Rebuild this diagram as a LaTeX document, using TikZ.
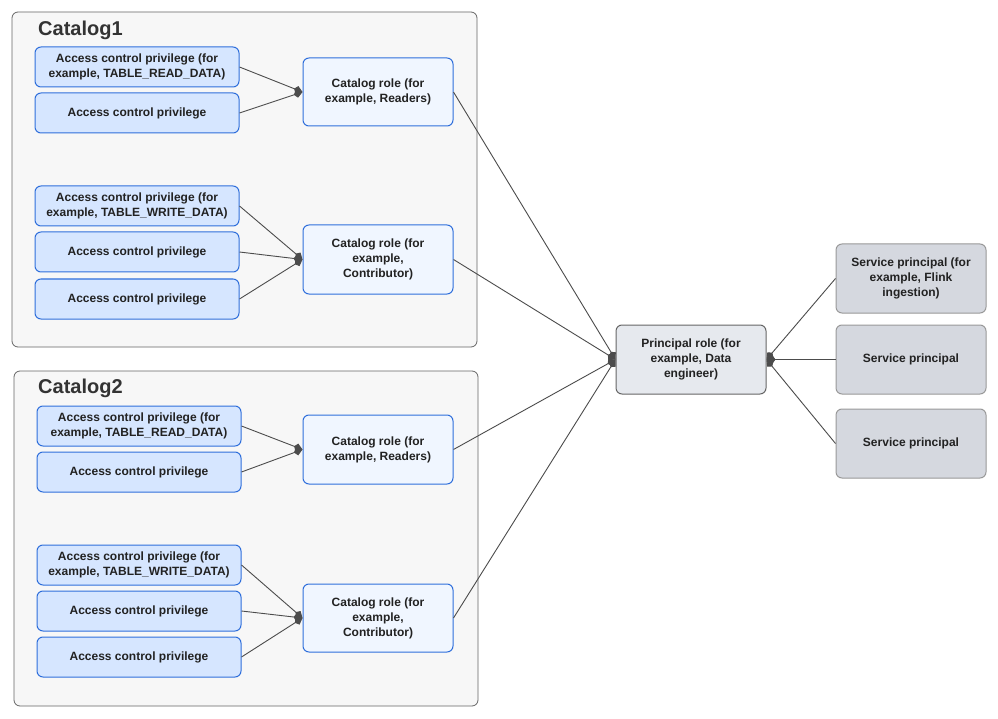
\documentclass[tikz,border=0pt]{standalone}
\usepackage{fontspec}
\setmainfont{Liberation Sans}
\usetikzlibrary{arrows.meta}
\definecolor{privfill}{HTML}{D6E6FF}
\definecolor{blueb}{HTML}{2F6FDB}
\definecolor{rolefill}{HTML}{F0F6FF}
\definecolor{contfill}{HTML}{F7F7F7}
\definecolor{princfill}{HTML}{E6E9EE}
\definecolor{servfill}{HTML}{D5D8DF}
\definecolor{txt}{HTML}{222222}
\begin{document}
\begin{tikzpicture}[x=1pt,y=-1pt,
  bx/.style={rounded corners=6pt,line width=1pt,inner sep=0pt,align=center,font=\fontsize{12}{15}\selectfont\bfseries,text=txt},
  priv/.style={bx,draw=blueb,fill=privfill},
  role/.style={bx,draw=blueb,fill=rolefill},
  cont/.style={rounded corners=6pt,draw=black!60,fill=contfill,line width=0.8pt},
  princ/.style={bx,draw=black!60,fill=princfill},
  serv/.style={bx,draw=black!40,fill=servfill},
  con/.style={draw=black!70,line width=0.9pt,-{Kite[length=9pt,width=8pt,inset=3pt]}},
  ttl/.style={font=\fontsize{20}{24}\selectfont\bfseries,text=black!80,anchor=west,inner sep=0pt}]
\useasboundingbox (0,0) rectangle (998,719);
\fill[white] (0,0) rectangle (998,719);
\newcommand{\bxat}[6]{\node[#1,minimum width={#4-#3},minimum height={#6-#5}] (#2) at ({(#3+#4)/2},{(#5+#6)/2}) {};}
\draw[cont] (12,12) rectangle (477,347);
\draw[cont] (14,371) rectangle (478,706);
\node[ttl] (t1) at (38,30) {Catalog1};
\node[ttl] (t2) at (38,388) {Catalog2};
% catalog1
\node[priv,minimum width=204pt,minimum height=40pt] (p11) at (137,67) {Access control privilege (for\\example, TABLE\_READ\_DATA)};
\node[priv,minimum width=204pt,minimum height=40pt] (p12) at (137,113) {Access control privilege};
\node[priv,minimum width=204pt,minimum height=40pt] (p13) at (137,206) {Access control privilege (for\\example, TABLE\_WRITE\_DATA)};
\node[priv,minimum width=204pt,minimum height=40pt] (p14) at (137,252) {Access control privilege};
\node[priv,minimum width=204pt,minimum height=40pt] (p15) at (137,299) {Access control privilege};
\node[role,minimum width=150pt,minimum height=68pt] (r11) at (378,92) {Catalog role (for\\example, Readers)};
\node[role,minimum width=150pt,minimum height=69pt] (r12) at (378,259.5) {Catalog role (for\\example,\\Contributor)};
% catalog2
\node[priv,minimum width=204pt,minimum height=40pt] (p21) at (139,426) {Access control privilege (for\\example, TABLE\_READ\_DATA)};
\node[priv,minimum width=204pt,minimum height=40pt] (p22) at (139,472) {Access control privilege};
\node[priv,minimum width=204pt,minimum height=40pt] (p23) at (139,565) {Access control privilege (for\\example, TABLE\_WRITE\_DATA)};
\node[priv,minimum width=204pt,minimum height=40pt] (p24) at (139,611) {Access control privilege};
\node[priv,minimum width=204pt,minimum height=40pt] (p25) at (139,657) {Access control privilege};
\node[role,minimum width=150pt,minimum height=69pt] (r21) at (378,449.5) {Catalog role (for\\example, Readers)};
\node[role,minimum width=150pt,minimum height=68pt] (r22) at (378,618) {Catalog role (for\\example,\\Contributor)};
% principal & services
\node[princ,minimum width=150pt,minimum height=69pt] (pr) at (691,359.5) {Principal role (for\\example, Data\\engineer)};
\node[serv,minimum width=150pt,minimum height=69pt] (s1) at (911,278.5) {Service principal (for\\example, Flink\\ingestion)};
\node[serv,minimum width=150pt,minimum height=69pt] (s2) at (911,359.5) {Service principal};
\node[serv,minimum width=150pt,minimum height=69pt] (s3) at (911,443.5) {Service principal};
% connectors
\foreach \a/\b in {p11/r11,p12/r11,p13/r12,p14/r12,p15/r12,p21/r21,p22/r21,p23/r22,p24/r22,p25/r22}
  \draw[con] (\a.east) -- (\b.west);
\foreach \a in {r11,r12,r21,r22}
  \draw[con] (\a.east) -- (pr.west);
\foreach \a in {s1,s2,s3}
  \draw[con] (\a.west) -- (pr.east);
\end{tikzpicture}
\end{document}
